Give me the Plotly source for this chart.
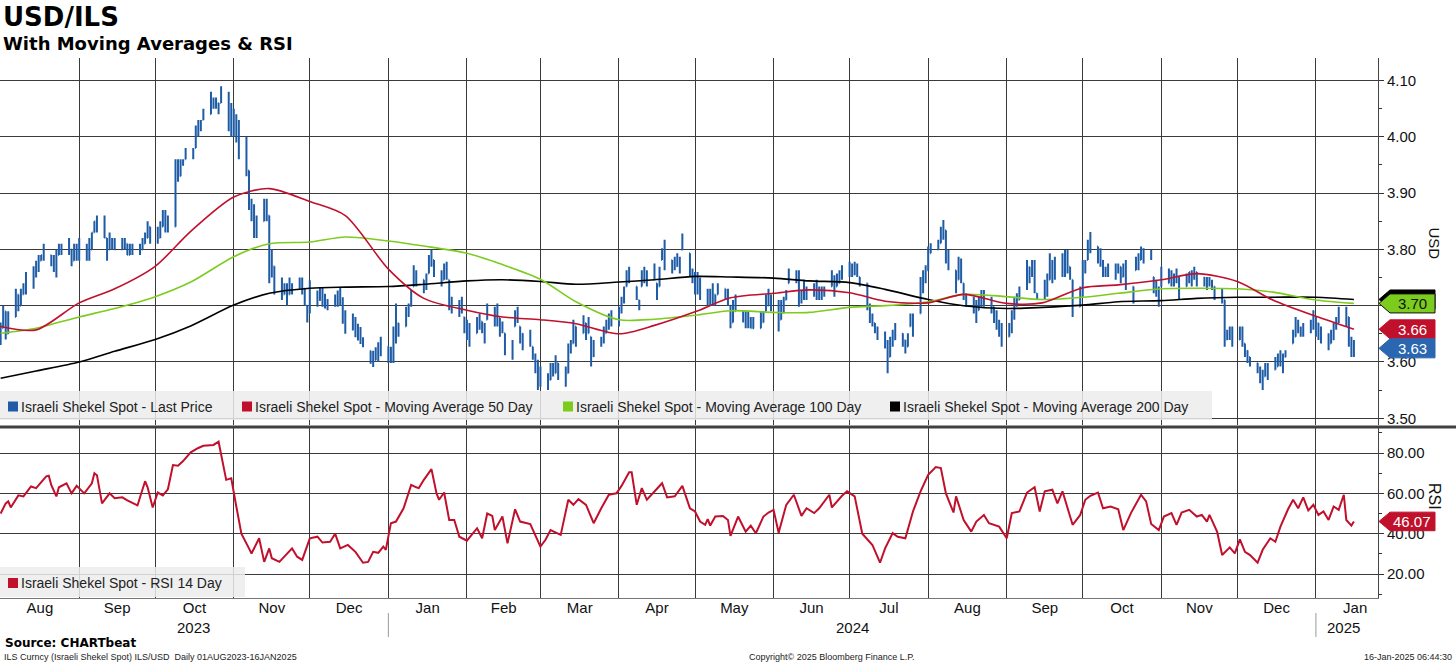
import numpy as np
import pandas as pd
import plotly.graph_objects as go
from plotly.subplots import make_subplots

# ---- daily USD/ILS bars, 01 Aug 2023 - 16 Jan 2025 (one row per month) ----
bar_high = [
    3.67, 3.70, 3.69, 3.69, 3.73, 3.72, 3.73, 3.74, 3.76, 3.77, 3.78, 3.79, 3.79, 3.81, 3.79, 3.79, 3.80, 3.81, 3.81, 3.82, 3.80, 3.81, 3.81,
    3.82, 3.81, 3.82, 3.83, 3.85, 3.86, 3.86, 3.82, 3.83, 3.82, 3.82, 3.82, 3.82, 3.81, 3.81, 3.81, 3.81, 3.82, 3.83, 3.85, 3.84,
    3.84, 3.85, 3.87, 3.87, 3.86, 3.96, 3.96, 3.96, 3.96, 3.98, 3.98, 4.02, 4.03, 4.03, 4.05, 4.08, 4.07, 4.07, 4.06, 4.09, 4.08, 4.06,
    4.05, 4.04, 4.03, 4.00, 3.94, 3.89, 3.88, 3.86, 3.89, 3.89, 3.86, 3.80, 3.77, 3.75, 3.74, 3.74, 3.75, 3.74, 3.75, 3.75, 3.73, 3.70,
    3.745, 3.727, 3.733, 3.733, 3.721, 3.712, 3.72, 3.727, 3.733, 3.715, 3.692, 3.686, 3.68, 3.668, 3.662, 3.644, 3.62, 3.62, 3.626, 3.635, 3.645,
    3.627, 3.627, 3.663, 3.704, 3.669, 3.698, 3.704, 3.728, 3.772, 3.763, 3.746, 3.757, 3.790, 3.799, 3.781, 3.763, 3.775, 3.778, 3.746, 3.716, 3.710, 3.716, 3.680,
    3.675, 3.669, 3.680, 3.686, 3.672, 3.669, 3.704, 3.698, 3.704, 3.678, 3.672, 3.651, 3.639, 3.692, 3.698, 3.663, 3.651, 3.657, 3.627, 3.615, 3.604,
    3.592, 3.580, 3.598, 3.598, 3.612, 3.598, 3.592, 3.633, 3.639, 3.675, 3.663, 3.683, 3.669, 3.680, 3.645, 3.639, 3.645, 3.663, 3.675, 3.686, 3.692,
    3.698, 3.716, 3.734, 3.763, 3.769, 3.734, 3.710, 3.763, 3.769, 3.763, 3.775, 3.740, 3.769, 3.802, 3.817, 3.781, 3.787, 3.793, 3.787, 3.828, 3.793, 3.766,
    3.76, 3.76, 3.75, 3.73, 3.73, 3.74, 3.72, 3.74, 3.73, 3.73, 3.70, 3.71, 3.72, 3.69, 3.69, 3.69, 3.68, 3.68, 3.69, 3.69, 3.72, 3.73, 3.72,
    3.710, 3.710, 3.716, 3.728, 3.766, 3.763, 3.763, 3.728, 3.746, 3.734, 3.740, 3.746, 3.734, 3.734, 3.734, 3.763, 3.754, 3.757, 3.763, 3.772,
    3.778, 3.775, 3.778, 3.775, 3.751, 3.740, 3.704, 3.686, 3.669, 3.663, 3.654, 3.639, 3.645, 3.657, 3.669, 3.651, 3.639, 3.651, 3.686, 3.686, 3.751, 3.763, 3.772,
    3.805, 3.811, 3.817, 3.840, 3.852, 3.834, 3.799, 3.763, 3.787, 3.784, 3.740, 3.722, 3.716, 3.710, 3.716, 3.728, 3.728, 3.716, 3.698, 3.692, 3.675, 3.669,
    3.669, 3.692, 3.716, 3.722, 3.734, 3.781, 3.769, 3.781, 3.781, 3.722, 3.746, 3.757, 3.793, 3.781, 3.787, 3.793, 3.799, 3.799, 3.769, 3.746, 3.734,
    3.781, 3.781, 3.817, 3.831, 3.805, 3.802, 3.781, 3.769, 3.775, 3.775, 3.775, 3.769, 3.775, 3.781, 3.734, 3.787, 3.793, 3.805, 3.802, 3.799, 3.751, 3.746, 3.734,
    3.769, 3.766, 3.763, 3.757, 3.766, 3.751, 3.757, 3.760, 3.763, 3.769, 3.760, 3.751, 3.751, 3.751, 3.746, 3.734, 3.731, 3.710, 3.657, 3.663, 3.663,
    3.663, 3.663, 3.633, 3.621, 3.609, 3.598, 3.592, 3.586, 3.598, 3.598, 3.609, 3.615, 3.621, 3.615, 3.621, 3.657, 3.680, 3.675, 3.663, 3.669, 3.675, 3.692,
    3.680, 3.669, 3.663, 3.651, 3.657, 3.669, 3.680, 3.698, 3.698, 3.680, 3.645, 3.639,
]
bar_low = [
    3.63, 3.66, 3.64, 3.65, 3.68, 3.69, 3.70, 3.72, 3.72, 3.73, 3.75, 3.76, 3.78, 3.78, 3.77, 3.76, 3.75, 3.79, 3.79, 3.79, 3.77, 3.78, 3.78,
    3.78, 3.78, 3.78, 3.80, 3.83, 3.83, 3.82, 3.78, 3.80, 3.80, 3.80, 3.80, 3.80, 3.79, 3.79, 3.79, 3.79, 3.80, 3.81, 3.82, 3.81,
    3.81, 3.82, 3.84, 3.83, 3.83, 3.84, 3.92, 3.93, 3.95, 3.96, 3.96, 3.98, 4.00, 4.01, 4.03, 4.04, 4.05, 4.05, 4.04, 4.06, 4.01, 4.00,
    4.00, 3.99, 3.96, 3.93, 3.87, 3.85, 3.82, 3.82, 3.85, 3.85, 3.74, 3.75, 3.72, 3.71, 3.72, 3.70, 3.72, 3.72, 3.73, 3.72, 3.70, 3.67,
    3.686, 3.698, 3.709, 3.698, 3.695, 3.692, 3.698, 3.698, 3.70, 3.668, 3.65, 3.656, 3.644, 3.638, 3.632, 3.626, 3.597, 3.591, 3.603, 3.60, 3.61,
    3.598, 3.598, 3.598, 3.633, 3.645, 3.663, 3.680, 3.698, 3.734, 3.734, 3.722, 3.728, 3.757, 3.769, 3.751, 3.734, 3.746, 3.746, 3.692, 3.686, 3.680, 3.686, 3.651,
    3.639, 3.627, 3.651, 3.657, 3.651, 3.633, 3.675, 3.663, 3.663, 3.645, 3.651, 3.612, 3.604, 3.663, 3.669, 3.633, 3.621, 3.627, 3.604, 3.580, 3.550,
    3.556, 3.550, 3.568, 3.574, 3.580, 3.568, 3.556, 3.580, 3.615, 3.633, 3.627, 3.651, 3.639, 3.651, 3.592, 3.609, 3.627, 3.633, 3.651, 3.657, 3.663,
    3.663, 3.686, 3.704, 3.734, 3.740, 3.710, 3.692, 3.734, 3.740, 3.734, 3.746, 3.710, 3.734, 3.781, 3.763, 3.757, 3.763, 3.769, 3.757, 3.799, 3.751, 3.740,
    3.72, 3.72, 3.71, 3.70, 3.70, 3.70, 3.70, 3.72, 3.71, 3.70, 3.66, 3.67, 3.69, 3.67, 3.66, 3.66, 3.66, 3.66, 3.66, 3.67, 3.69, 3.70, 3.69,
    3.654, 3.675, 3.686, 3.710, 3.740, 3.740, 3.698, 3.704, 3.710, 3.710, 3.716, 3.710, 3.710, 3.710, 3.716, 3.734, 3.716, 3.734, 3.740, 3.746,
    3.751, 3.751, 3.754, 3.751, 3.734, 3.692, 3.669, 3.663, 3.651, 3.639, 3.624, 3.580, 3.609, 3.627, 3.639, 3.627, 3.615, 3.627, 3.663, 3.645, 3.686, 3.722, 3.740,
    3.763, 3.793, 3.799, 3.811, 3.817, 3.775, 3.763, 3.722, 3.746, 3.740, 3.710, 3.698, 3.686, 3.669, 3.692, 3.698, 3.698, 3.686, 3.669, 3.657, 3.645, 3.627,
    3.645, 3.651, 3.675, 3.698, 3.710, 3.728, 3.740, 3.751, 3.722, 3.710, 3.710, 3.716, 3.746, 3.740, 3.746, 3.751, 3.751, 3.757, 3.746, 3.680, 3.698,
    3.716, 3.757, 3.781, 3.793, 3.775, 3.769, 3.751, 3.751, 3.751, 3.746, 3.757, 3.740, 3.751, 3.728, 3.704, 3.763, 3.763, 3.781, 3.775, 3.781, 3.722, 3.716, 3.698,
    3.734, 3.740, 3.734, 3.734, 3.740, 3.710, 3.734, 3.740, 3.734, 3.746, 3.734, 3.734, 3.728, 3.734, 3.728, 3.710, 3.704, 3.627, 3.639, 3.639, 3.627,
    3.639, 3.627, 3.609, 3.598, 3.592, 3.580, 3.562, 3.550, 3.574, 3.568, 3.586, 3.592, 3.592, 3.580, 3.609, 3.633, 3.645, 3.651, 3.645, 3.645, 3.651, 3.657,
    3.645, 3.639, 3.633, 3.621, 3.633, 3.639, 3.657, 3.669, 3.663, 3.627, 3.609, 3.609,
]
bar_close = [
    3.64, 3.69, 3.65, 3.67, 3.72, 3.70, 3.72, 3.73, 3.75, 3.76, 3.77, 3.78, 3.79, 3.80, 3.78, 3.77, 3.79, 3.80, 3.80, 3.81, 3.78, 3.80, 3.79,
    3.79, 3.80, 3.79, 3.83, 3.85, 3.84, 3.82, 3.79, 3.81, 3.81, 3.80, 3.81, 3.81, 3.79, 3.80, 3.80, 3.80, 3.81, 3.82, 3.84, 3.82,
    3.82, 3.84, 3.86, 3.85, 3.84, 3.95, 3.93, 3.95, 3.95, 3.97, 3.97, 4.01, 4.02, 4.02, 4.04, 4.06, 4.06, 4.06, 4.05, 4.07, 4.02, 4.01,
    4.02, 4.00, 3.97, 3.94, 3.88, 3.86, 3.83, 3.83, 3.87, 3.86, 3.76, 3.77, 3.73, 3.72, 3.73, 3.71, 3.73, 3.73, 3.74, 3.73, 3.71, 3.68,
    3.72, 3.71, 3.71, 3.71, 3.70, 3.70, 3.71, 3.71, 3.71, 3.69, 3.66, 3.66, 3.65, 3.64, 3.64, 3.63, 3.60, 3.60, 3.61, 3.62, 3.63,
    3.61, 3.62, 3.65, 3.69, 3.66, 3.69, 3.70, 3.72, 3.76, 3.75, 3.73, 3.74, 3.78, 3.79, 3.76, 3.74, 3.77, 3.76, 3.70, 3.70, 3.69, 3.70, 3.66,
    3.66, 3.64, 3.67, 3.68, 3.66, 3.64, 3.69, 3.68, 3.70, 3.66, 3.66, 3.62, 3.61, 3.68, 3.69, 3.65, 3.63, 3.64, 3.61, 3.59, 3.56,
    3.57, 3.56, 3.59, 3.58, 3.60, 3.58, 3.57, 3.62, 3.63, 3.67, 3.65, 3.67, 3.65, 3.67, 3.61, 3.63, 3.64, 3.65, 3.67, 3.68, 3.68,
    3.69, 3.71, 3.72, 3.75, 3.76, 3.72, 3.70, 3.75, 3.76, 3.74, 3.76, 3.72, 3.75, 3.79, 3.80, 3.77, 3.77, 3.78, 3.77, 3.81, 3.76, 3.75,
    3.74, 3.73, 3.72, 3.72, 3.71, 3.72, 3.71, 3.73, 3.72, 3.72, 3.67, 3.68, 3.70, 3.68, 3.67, 3.67, 3.66, 3.66, 3.67, 3.68, 3.70, 3.71, 3.70,
    3.66, 3.69, 3.70, 3.72, 3.76, 3.75, 3.71, 3.72, 3.73, 3.72, 3.73, 3.73, 3.72, 3.72, 3.73, 3.75, 3.73, 3.74, 3.75, 3.76,
    3.77, 3.77, 3.77, 3.77, 3.74, 3.70, 3.68, 3.67, 3.66, 3.65, 3.63, 3.59, 3.63, 3.64, 3.65, 3.64, 3.62, 3.64, 3.67, 3.66, 3.73, 3.75, 3.76,
    3.79, 3.80, 3.81, 3.83, 3.84, 3.79, 3.77, 3.73, 3.77, 3.76, 3.72, 3.71, 3.70, 3.68, 3.70, 3.71, 3.71, 3.70, 3.68, 3.67, 3.65, 3.64,
    3.66, 3.68, 3.70, 3.71, 3.73, 3.77, 3.76, 3.77, 3.74, 3.72, 3.73, 3.74, 3.78, 3.76, 3.77, 3.78, 3.77, 3.78, 3.75, 3.69, 3.72,
    3.76, 3.77, 3.80, 3.81, 3.79, 3.78, 3.76, 3.76, 3.77, 3.76, 3.77, 3.75, 3.77, 3.74, 3.71, 3.78, 3.78, 3.80, 3.79, 3.79, 3.73, 3.73, 3.71,
    3.74, 3.76, 3.75, 3.75, 3.76, 3.72, 3.75, 3.76, 3.75, 3.76, 3.75, 3.74, 3.74, 3.74, 3.74, 3.72, 3.71, 3.64, 3.65, 3.65, 3.64,
    3.65, 3.64, 3.62, 3.61, 3.60, 3.59, 3.57, 3.56, 3.58, 3.58, 3.59, 3.60, 3.61, 3.59, 3.61, 3.64, 3.67, 3.66, 3.65, 3.66, 3.66, 3.68,
    3.67, 3.65, 3.64, 3.63, 3.64, 3.66, 3.67, 3.68, 3.68, 3.64, 3.62, 3.63,
]

# ---- moving averages, read twice a month ----
ma_dates = [
    "2023-08-01", "2023-08-15", "2023-09-01", "2023-09-15", "2023-10-01", "2023-10-15",
    "2023-11-01", "2023-11-15", "2023-12-01", "2023-12-15", "2024-01-01", "2024-01-15",
    "2024-02-01", "2024-02-15", "2024-03-01", "2024-03-15", "2024-04-01", "2024-04-15",
    "2024-05-01", "2024-05-15", "2024-06-01", "2024-06-15", "2024-07-01", "2024-07-15",
    "2024-08-01", "2024-08-15", "2024-09-01", "2024-09-15", "2024-10-01", "2024-10-15",
    "2024-11-01", "2024-11-15", "2024-12-01", "2024-12-15", "2025-01-01", "2025-01-16",
]
ma50 = [
    3.663, 3.657, 3.705, 3.73, 3.77, 3.832, 3.893, 3.908, 3.885, 3.86, 3.765, 3.713,
    3.692, 3.68, 3.675, 3.668, 3.65, 3.665, 3.689, 3.714, 3.722, 3.728, 3.723, 3.708,
    3.705, 3.72, 3.704, 3.705, 3.732, 3.737, 3.746, 3.757, 3.743, 3.71, 3.681, 3.658,
]
ma100 = [
    3.651, 3.66, 3.68, 3.695, 3.716, 3.742, 3.787, 3.81, 3.813, 3.822, 3.815, 3.806,
    3.793, 3.773, 3.747, 3.707, 3.675, 3.676, 3.683, 3.691, 3.688, 3.688, 3.697, 3.70,
    3.707, 3.72, 3.716, 3.711, 3.715, 3.722, 3.73, 3.731, 3.73, 3.724, 3.71, 3.704,
]
ma200 = [
    3.571, 3.584, 3.60, 3.619, 3.64, 3.664, 3.701, 3.722, 3.731, 3.733, 3.734, 3.738,
    3.744, 3.746, 3.743, 3.738, 3.742, 3.746, 3.752, 3.751, 3.749, 3.744, 3.741, 3.729,
    3.711, 3.70, 3.695, 3.697, 3.701, 3.707, 3.709, 3.713, 3.715, 3.715, 3.715, 3.711,
]

# ---- RSI 14 day ----
rsi_dates = [
    "2023-08-01", "2023-08-03", "2023-08-04", "2023-08-05", "2023-08-08", "2023-08-10", "2023-08-13", "2023-08-15", "2023-08-19", "2023-08-20", "2023-08-21", "2023-08-23", "2023-08-24", "2023-08-27", "2023-08-29", "2023-08-31",
    "2023-09-03", "2023-09-06", "2023-09-07", "2023-09-08", "2023-09-10", "2023-09-13", "2023-09-15", "2023-09-18", "2023-09-20", "2023-09-24", "2023-09-27", "2023-09-28", "2023-09-30",
    "2023-10-02", "2023-10-04", "2023-10-06", "2023-10-08", "2023-10-10", "2023-10-12", "2023-10-15", "2023-10-18", "2023-10-20", "2023-10-24", "2023-10-26", "2023-10-29", "2023-10-31",
    "2023-11-02", "2023-11-04", "2023-11-07", "2023-11-08", "2023-11-11", "2023-11-13", "2023-11-15", "2023-11-16", "2023-11-19", "2023-11-24", "2023-11-26", "2023-11-28",
    "2023-12-01", "2023-12-04", "2023-12-06", "2023-12-09", "2023-12-11", "2023-12-13", "2023-12-16", "2023-12-19", "2023-12-22", "2023-12-24", "2023-12-26", "2023-12-28", "2023-12-30", "2023-12-31",
    "2024-01-02", "2024-01-04", "2024-01-07", "2024-01-10", "2024-01-12", "2024-01-13", "2024-01-15", "2024-01-18", "2024-01-20", "2024-01-21", "2024-01-23", "2024-01-25", "2024-01-27", "2024-01-29",
    "2024-02-01", "2024-02-02", "2024-02-05", "2024-02-07", "2024-02-09", "2024-02-11", "2024-02-12", "2024-02-15", "2024-02-17", "2024-02-20", "2024-02-22", "2024-02-26",
    "2024-03-01", "2024-03-03", "2024-03-05", "2024-03-09", "2024-03-12", "2024-03-14", "2024-03-16", "2024-03-19", "2024-03-22", "2024-03-25", "2024-03-28", "2024-03-31",
    "2024-04-02", "2024-04-05", "2024-04-06", "2024-04-08", "2024-04-10", "2024-04-12", "2024-04-15", "2024-04-18", "2024-04-20", "2024-04-23", "2024-04-26", "2024-04-29",
    "2024-05-01", "2024-05-03", "2024-05-05", "2024-05-06", "2024-05-07", "2024-05-09", "2024-05-12", "2024-05-14", "2024-05-15", "2024-05-18", "2024-05-21", "2024-05-23", "2024-05-25", "2024-05-28", "2024-05-30",
    "2024-06-01", "2024-06-03", "2024-06-06", "2024-06-09", "2024-06-12", "2024-06-14", "2024-06-17", "2024-06-19", "2024-06-23", "2024-06-24", "2024-06-28", "2024-06-30",
    "2024-07-03", "2024-07-06", "2024-07-10", "2024-07-13", "2024-07-15", "2024-07-18", "2024-07-20", "2024-07-23", "2024-07-26", "2024-07-29",
    "2024-08-01", "2024-08-04", "2024-08-06", "2024-08-08", "2024-08-11", "2024-08-12", "2024-08-15", "2024-08-18", "2024-08-20", "2024-08-23", "2024-08-25", "2024-08-29",
    "2024-09-01", "2024-09-03", "2024-09-06", "2024-09-09", "2024-09-12", "2024-09-14", "2024-09-16", "2024-09-19", "2024-09-21", "2024-09-23", "2024-09-26", "2024-09-27", "2024-09-30",
    "2024-10-02", "2024-10-04", "2024-10-07", "2024-10-09", "2024-10-12", "2024-10-15", "2024-10-17", "2024-10-20", "2024-10-22", "2024-10-24", "2024-10-26", "2024-10-28", "2024-10-31",
    "2024-11-02", "2024-11-05", "2024-11-07", "2024-11-09", "2024-11-12", "2024-11-15", "2024-11-17", "2024-11-19", "2024-11-20", "2024-11-23", "2024-11-25", "2024-11-28", "2024-11-30",
    "2024-12-02", "2024-12-04", "2024-12-06", "2024-12-09", "2024-12-11", "2024-12-14", "2024-12-16", "2024-12-18", "2024-12-21", "2024-12-23", "2024-12-25", "2024-12-27", "2024-12-29", "2024-12-31",
    "2025-01-02", "2025-01-04", "2025-01-06", "2025-01-08", "2025-01-10", "2025-01-12", "2025-01-13", "2025-01-15", "2025-01-16",
]
rsi_values = [
    50, 55, 56, 53, 59, 58.5, 63.4, 62.6, 68.4, 68.7, 64, 58.5, 63, 65, 60, 63.7,
    60, 65, 70, 69, 55, 60, 57.6, 58, 56.5, 54, 66, 63, 53,
    60.4, 59, 62, 74, 73.7, 76, 80.3, 82.5, 83.6, 84, 85.6, 66.7, 67.5,
    53.5, 40, 32.7, 30.2, 37.7, 26, 32.7, 27.8, 26, 32.7, 28.6, 27,
    37.7, 38.5, 35.6, 36, 40, 32.7, 34.4, 31, 25.6, 26, 31, 30.5, 33.6, 32,
    45.2, 46, 52.6, 64.2, 63, 62.6, 66.7, 72, 60, 56.8, 60.4, 46.8, 46.8, 38.5,
    36.5, 38.2, 42.7, 37.7, 50, 48.8, 41.8, 48.5, 35.2, 52.1, 46, 44.8,
    33.6, 37, 41.8, 39.4, 56.8, 54.3, 57.1, 54.3, 45.2, 52.6, 59.3, 60,
    63.7, 70.4, 70.4, 54.3, 62.6, 56.8, 61, 65, 58, 58.5, 63.7, 52.6,
    51, 46, 44.4, 47.2, 44, 48.5, 48.8, 46.8, 38.9, 48.5, 41, 44, 40.2, 48.5, 50.5,
    51.8, 40.5, 54.3, 59.3, 48.8, 52.6, 50.2, 52.6, 59.3, 53, 58.8, 61,
    58.5, 40, 34.4, 25.6, 32.7, 40.3, 38.5, 37.7, 51, 61,
    69.2, 73, 72.5, 60, 50.5, 58.5, 46.8, 41, 46, 49.3, 45.2, 43.5,
    37.7, 50.2, 51, 60.4, 63, 51, 61, 61.8, 55, 61, 48.5, 44.4, 49.3,
    56.8, 58.8, 60.4, 52.6, 53.5, 52.1, 41.8, 50.2, 55, 59.3, 56, 44.8, 41.8,
    48.5, 50.2, 44.4, 50.5, 51.8, 48.5, 49.3, 46, 49.3, 41, 29.4, 33.2, 30.2,
    37.2, 31, 29.4, 25.6, 32, 37.7, 36, 43.5, 52.1, 56.8, 52.6, 58, 51.5, 54.3,
    49.3, 51, 46.8, 53.5, 51.8, 59.3, 46.8, 44, 46.07,
]

price_ticks = [3.50, 3.60, 3.70, 3.80, 3.90, 4.00, 4.10]
rsi_ticks = [20, 40, 60, 80]
year_labels = [("2023", "2023-10-16"), ("2024", "2024-07-02"), ("2025", "2025-01-12")]

BLUE = "#1f5ca6"
RED = "#c0102c"
GREEN = "#7ccc1e"
BLACK = "#000000"
GRID = "#3a3a3a"
FONT = "Liberation Sans, Arial, sans-serif"
BOLD = "DejaVu Sans, Verdana, sans-serif"

# plot area in pixels (figure is 1456 x 665)
PL, PR, PT, PB = 0, 1378, 58, 598


def px(x):
    return (x - PL) / (PR - PL)


def py(y):
    return (PB - y) / (PB - PT)


days = pd.bdate_range("2023-08-01", periods=len(bar_close))
hi = np.array(bar_high)
lo = np.array(bar_low)
close = np.clip(np.array(bar_close), lo, hi)
open_ = np.clip(np.r_[close[0], close[:-1]], lo, hi)

fig = make_subplots(rows=2, cols=1, shared_xaxes=True, vertical_spacing=0.0)

fig.add_trace(go.Ohlc(x=days, open=open_, high=hi, low=lo, close=close,
                      name="Israeli Shekel Spot - Last Price",
                      increasing_line_color=BLUE, decreasing_line_color=BLUE,
                      line_width=2, tickwidth=0.3, showlegend=False, hoverinfo="skip"),
              row=1, col=1)

for vals, color, label in [(ma200, BLACK, "Moving Average 200 Day"),
                           (ma100, GREEN, "Moving Average 100 Day"),
                           (ma50, RED, "Moving Average 50 Day")]:
    fig.add_trace(go.Scatter(x=ma_dates, y=vals, mode="lines",
                             name="Israeli Shekel Spot - " + label,
                             line=dict(color=color, width=1.6, shape="spline", smoothing=0.8),
                             showlegend=False, hoverinfo="skip"),
                  row=1, col=1)

fig.add_trace(go.Scatter(x=rsi_dates, y=rsi_values, mode="lines",
                         name="Israeli Shekel Spot - RSI 14 Day",
                         line=dict(color=RED, width=2), showlegend=False, hoverinfo="skip"),
              row=2, col=1)

x_range = ["2023-07-31 18:00", "2025-01-25 12:00"]
xcommon = dict(type="date", range=x_range, dtick="M1", tick0="2023-08-01",
               showgrid=True, gridcolor=GRID, gridwidth=1, zeroline=False)
ycommon = dict(side="right", showgrid=True, gridcolor=GRID, gridwidth=1, zeroline=False,
               ticks="outside", ticklen=5, tickcolor="#333", showline=True, linecolor="#444",
               tickfont=dict(family=FONT, size=15, color="#111"))

# the 3.70 label sits under the value tags, as in the original
price_text = ["" if abs(v - 3.70) < 1e-9 else f"{v:.2f}" for v in price_ticks]

fig.update_layout(
    width=1456, height=665, template="none",
    paper_bgcolor="white", plot_bgcolor="white",
    margin=dict(l=PL, r=1456 - PR, t=PT, b=665 - PB),
    font=dict(family=FONT, size=14, color="#111"),
    showlegend=False,
    xaxis=dict(**xcommon, showticklabels=False, ticks="", rangeslider=dict(visible=False)),
    xaxis2=dict(**xcommon, showticklabels=True, tickformat="%b", ticklabelmode="period",
                ticks="", ticklabelstandoff=-4, showline=True, linecolor="#777",
                tickfont=dict(family=FONT, size=15, color="#111")),
    yaxis=dict(**ycommon, domain=[py(425), 1], range=[3.488, 4.140],
               tickvals=price_ticks, ticktext=price_text,
               minor=dict(dtick=0.05, tick0=3.5, ticks="outside", ticklen=3, tickcolor="#333", showgrid=False)),
    yaxis2=dict(**ycommon, domain=[0, py(428)], range=[8.1, 92.4],
                tickvals=rsi_ticks, tickformat=".2f",
                minor=dict(dtick=10, tick0=0, ticks="outside", ticklen=3, tickcolor="#333", showgrid=False)),
)
fig.update_xaxes(rangeslider_visible=False)

shapes = []
annotations = []

# thick separator between the panels
shapes.append(dict(type="line", xref="paper", yref="paper", x0=0, x1=1456 / PR,
                   y0=py(427), y1=py(427), line=dict(color="#404040", width=3)))

# year dividers under the month labels
for d in ["2024-01-01", "2025-01-01"]:
    shapes.append(dict(type="line", xref="x2", yref="paper", x0=d, x1=d,
                       y0=py(613), y1=py(637), line=dict(color="#999", width=1)))
for text, d in year_labels:
    annotations.append(dict(text=text, x=d, xref="x2", y=py(627), yref="paper",
                            yanchor="middle", showarrow=False,
                            font=dict(family=FONT, size=15, color="#111")))


def legend_box(x0, x1, y0, y1, items):
    shapes.append(dict(type="rect", xref="paper", yref="paper", x0=px(x0), x1=px(x1),
                       y0=py(y1), y1=py(y0), fillcolor="rgba(236,236,236,0.85)",
                       line=dict(width=0), layer="above"))
    yc = (y0 + y1) / 2 + 1
    for sq, color, label in items:
        shapes.append(dict(type="rect", xref="paper", yref="paper", x0=px(sq), x1=px(sq + 10),
                           y0=py(yc + 5), y1=py(yc - 5), fillcolor=color,
                           line=dict(width=0), layer="above"))
        annotations.append(dict(text=label, x=px(sq + 11), y=py(yc), xref="paper", yref="paper",
                                xanchor="left", yanchor="middle", showarrow=False,
                                font=dict(family=FONT, size=14, color="#222")))


legend_box(0, 1212, 391, 420, [
    (8, BLUE, "Israeli Shekel Spot - Last Price"),
    (242, RED, "Israeli Shekel Spot - Moving Average 50 Day"),
    (563, GREEN, "Israeli Shekel Spot - Moving Average 100 Day"),
    (890, BLACK, "Israeli Shekel Spot - Moving Average 200 Day"),
])
legend_box(0, 245, 567, 597, [(8, RED, "Israeli Shekel Spot - RSI 14 Day")])


def value_tag(yref, value, half, color, text=None, text_color="white", outline=None):
    xt, xb, xr = px(1379), px(1390), px(1435)
    path = (f"M {xt},{value} L {xb},{value + half} L {xr},{value + half} "
            f"L {xr},{value - half} L {xb},{value - half} Z")
    shapes.append(dict(type="path", path=path, xref="paper", yref=yref, fillcolor=color,
                       line=dict(color=outline or color, width=1), layer="above"))
    if text:
        annotations.append(dict(text=text, x=px(1412), y=value, xref="paper", yref=yref,
                                xanchor="center", yanchor="middle", showarrow=False,
                                font=dict(family=FONT, size=15, color=text_color)))


h = 0.0169
value_tag("y", ma200[-1], h, BLACK)
value_tag("y", ma100[-1], h, GREEN, f"{ma100[-1]:.2f}", "#111", outline="#111")
red_at = ma50[-1]
value_tag("y", red_at, h, RED, f"{ma50[-1]:.2f}")
blue_at = min(close[-1], red_at - 2 * h)
value_tag("y", blue_at, h, "#2a67b0", f"{close[-1]:.2f}")
value_tag("y2", rsi_values[-1], 4.6, RED, f"{rsi_values[-1]:.2f}")

# axis names on the right
annotations.append(dict(text="USD", x=px(1444), y=py(243), xref="paper", yref="paper",
                        textangle=90, showarrow=False, font=dict(family=FONT, size=15, color="#111")))
annotations.append(dict(text="RSI", x=px(1445), y=py(512), xref="paper", yref="paper",
                        textangle=90, showarrow=False, font=dict(family=FONT, size=16, color="#111")))

# titles and footer
annotations += [
    dict(text="<b>USD/ILS</b>", x=px(1), y=py(17), xref="paper", yref="paper",
         xanchor="left", yanchor="middle", showarrow=False,
         font=dict(family=BOLD, size=26, color="#000")),
    dict(text="<b>With Moving Averages &amp; RSI</b>", x=px(1), y=py(43), xref="paper", yref="paper",
         xanchor="left", yanchor="middle", showarrow=False,
         font=dict(family=BOLD, size=18, color="#000")),
    dict(text="<b>Source: CHARTbeat</b>", x=px(3), y=py(643), xref="paper", yref="paper",
         xanchor="left", yanchor="middle", showarrow=False,
         font=dict(family=BOLD, size=12, color="#000")),
    dict(text="ILS Curncy (Israeli Shekel Spot) ILS/USD\u00a0\u00a0Daily 01AUG2023-16JAN2025",
         x=px(2), y=py(657), xref="paper", yref="paper", xanchor="left", yanchor="middle",
         showarrow=False, font=dict(family=FONT, size=9, color="#222")),
    dict(text="Copyright\u00a9 2025 Bloomberg Finance L.P.", x=px(832), y=py(657),
         xref="paper", yref="paper", xanchor="center", yanchor="middle",
         showarrow=False, font=dict(family=FONT, size=9, color="#222")),
    dict(text="16-Jan-2025 06:44:30", x=px(1454), y=py(657), xref="paper", yref="paper",
         xanchor="right", yanchor="middle", showarrow=False,
         font=dict(family=FONT, size=9, color="#222")),
]

fig.update_layout(shapes=shapes, annotations=annotations)

# drop the browser's default page margin so the figure sits at the window origin
fig.write_html("out.html", config={"displayModeBar": False},
               post_script="document.body.style.margin='0px';")
